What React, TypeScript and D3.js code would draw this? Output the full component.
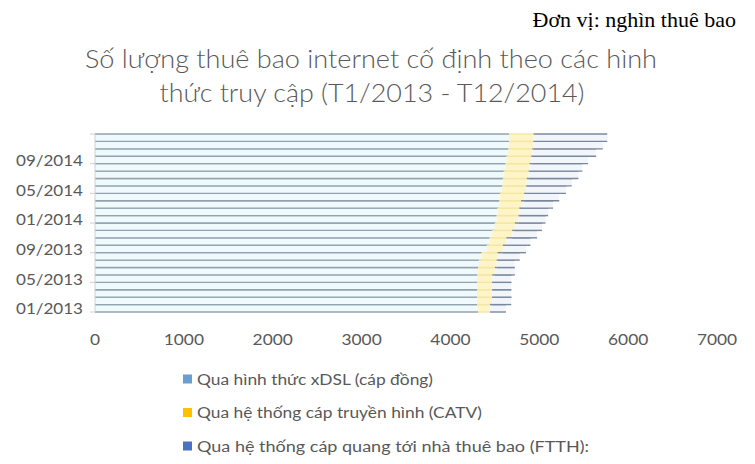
import React from "react";
import * as d3 from "d3";

// months shown bottom -> top
const months = [
  "01/2013", "02/2013", "03/2013", "04/2013", "05/2013", "06/2013",
  "07/2013", "08/2013", "09/2013", "10/2013", "11/2013", "12/2013",
  "01/2014", "02/2014", "03/2014", "04/2014", "05/2014", "06/2014",
  "07/2014", "08/2014", "09/2014", "10/2014", "11/2014", "12/2014",
];

// thousand subscribers
const xdsl = [
  4310, 4300, 4300, 4300, 4300, 4310, 4320, 4350, 4410, 4440, 4470, 4500,
  4520, 4530, 4550, 4560, 4580, 4590, 4600, 4620, 4630, 4650, 4660, 4660,
];
const catv = [
  135, 170, 170, 170, 170, 190, 200, 180, 180, 190, 225, 225,
  245, 245, 245, 270, 270, 270, 280, 270, 280, 270, 275, 275,
];
const ftth = [
  180, 215, 215, 215, 215, 225, 200, 250, 260, 270, 280, 305,
  305, 325, 360, 395, 450, 505, 560, 595, 640, 720, 780, 830,
];

const xTicks = [0, 1000, 2000, 3000, 4000, 5000, 6000, 7000];
const labelEvery = 4;

const seriesNames = [
  "Qua hình thức xDSL (cáp đồng)",
  "Qua hệ thống cáp truyền hình (CATV)",
  "Qua hệ thống cáp quang tới nhà thuê bao (FTTH):",
];
const legendWidths = [236, 285, 392];
const keys = ["xdsl", "catv", "ftth"];
const legendColors = ["#6a9ed0", "#ffc000", "#4a72c0"];
const barFill = ["#f0fafd", "#fdf4c8", "#f2f6fb"];
const barLine = ["#8fa3b0", "#f6e6a2", "#7a889e"];

const W = 755;
const H = 464;
const font = "Lato, 'Open Sans', sans-serif";
const grey = "#595959";

export default function App() {
  const rows = months.map((m, i) => ({
    month: m,
    xdsl: xdsl[i],
    catv: catv[i],
    ftth: ftth[i],
  }));

  const stacked = d3.stack<any>().keys(keys)(rows);

  const x = d3.scaleLinear().domain([0, 7000]).range([95, 717]);
  const y = d3.scaleBand().domain(months).range([312, 134]).padding(0);
  const bw = y.bandwidth();

  return (
    <svg
      width={W}
      height={H}
      style={{ position: "absolute", left: 0, top: 0, background: "#fff" }}
    >
      {/* unit note */}
      <text
        x={736}
        y={27}
        textAnchor="end"
        fontFamily="'Liberation Serif', 'Times New Roman', serif"
        fontSize={22}
        fill="#000"
      >
        Đơn vị: nghìn thuê bao
      </text>

      {/* title */}
      <g fontFamily={font} fontSize={25} fontWeight={300} fill={grey} textAnchor="middle">
        <text x={371} y={68} textLength={572} lengthAdjust="spacingAndGlyphs">
          Số lượng thuê bao internet cố định theo các hình
        </text>
        <text x={372} y={102} textLength={425} lengthAdjust="spacingAndGlyphs">
          thức truy cập (T1/2013 - T12/2014)
        </text>
      </g>

      {/* bars: pale fill, thin lines on top and bottom edge */}
      {stacked.map((s, si) => (
        <g key={s.key}>
          {s.map((d: any) => {
            const x0 = x(d[0]);
            const x1 = x(d[1]);
            const y0 = y(d.data.month)!;
            return (
              <g key={d.data.month}>
                <rect x={x0} y={y0} width={Math.max(0, x1 - x0)} height={bw} fill={barFill[si]} />
                <line x1={x0} x2={x1} y1={y0} y2={y0} stroke={barLine[si]} strokeWidth={1.4} />
                <line x1={x0} x2={x1} y1={y0 + bw} y2={y0 + bw} stroke={barLine[si]} strokeWidth={1.4} />
              </g>
            );
          })}
        </g>
      ))}

      {/* y axis */}
      <line x1={95} x2={95} y1={134} y2={312} stroke="#d0d0d0" />
      {months.map((m, i) =>
        i % labelEvery === 0 ? (
          <line
            key={"t" + m}
            x1={90}
            x2={95}
            y1={y(m)! + bw}
            y2={y(m)! + bw}
            stroke="#d0d0d0"
          />
        ) : null
      )}
      <line x1={90} x2={95} y1={134} y2={134} stroke="#d0d0d0" />
      <g fontFamily={font} fontSize={15.5} fill={grey} textAnchor="end">
        {months.map((m, i) =>
          i % labelEvery === 0 ? (
            <text key={m} x={83} y={y(m)! + bw / 2 + 6} textLength={67} lengthAdjust="spacingAndGlyphs">
              {m}
            </text>
          ) : null
        )}
      </g>

      {/* x tick labels */}
      <g fontFamily={font} fontSize={15.5} fill={grey} textAnchor="middle">
        {xTicks.map((t) => (
          <text
            key={t}
            transform={`translate(${x(t)},345) scale(1.12,1)`}
          >
            {t}
          </text>
        ))}
      </g>

      {/* legend */}
      <g fontFamily={font} fontSize={15.5} fill={grey}>
        {seriesNames.map((n, i) => (
          <g key={n} transform={`translate(183, ${379 + i * 33.5})`}>
            <rect x={0} y={-4.5} width={9} height={9} fill={legendColors[i]} />
            <text x={14} y={5.5} textLength={legendWidths[i]} lengthAdjust="spacingAndGlyphs">
              {n}
            </text>
          </g>
        ))}
      </g>
    </svg>
  );
}
